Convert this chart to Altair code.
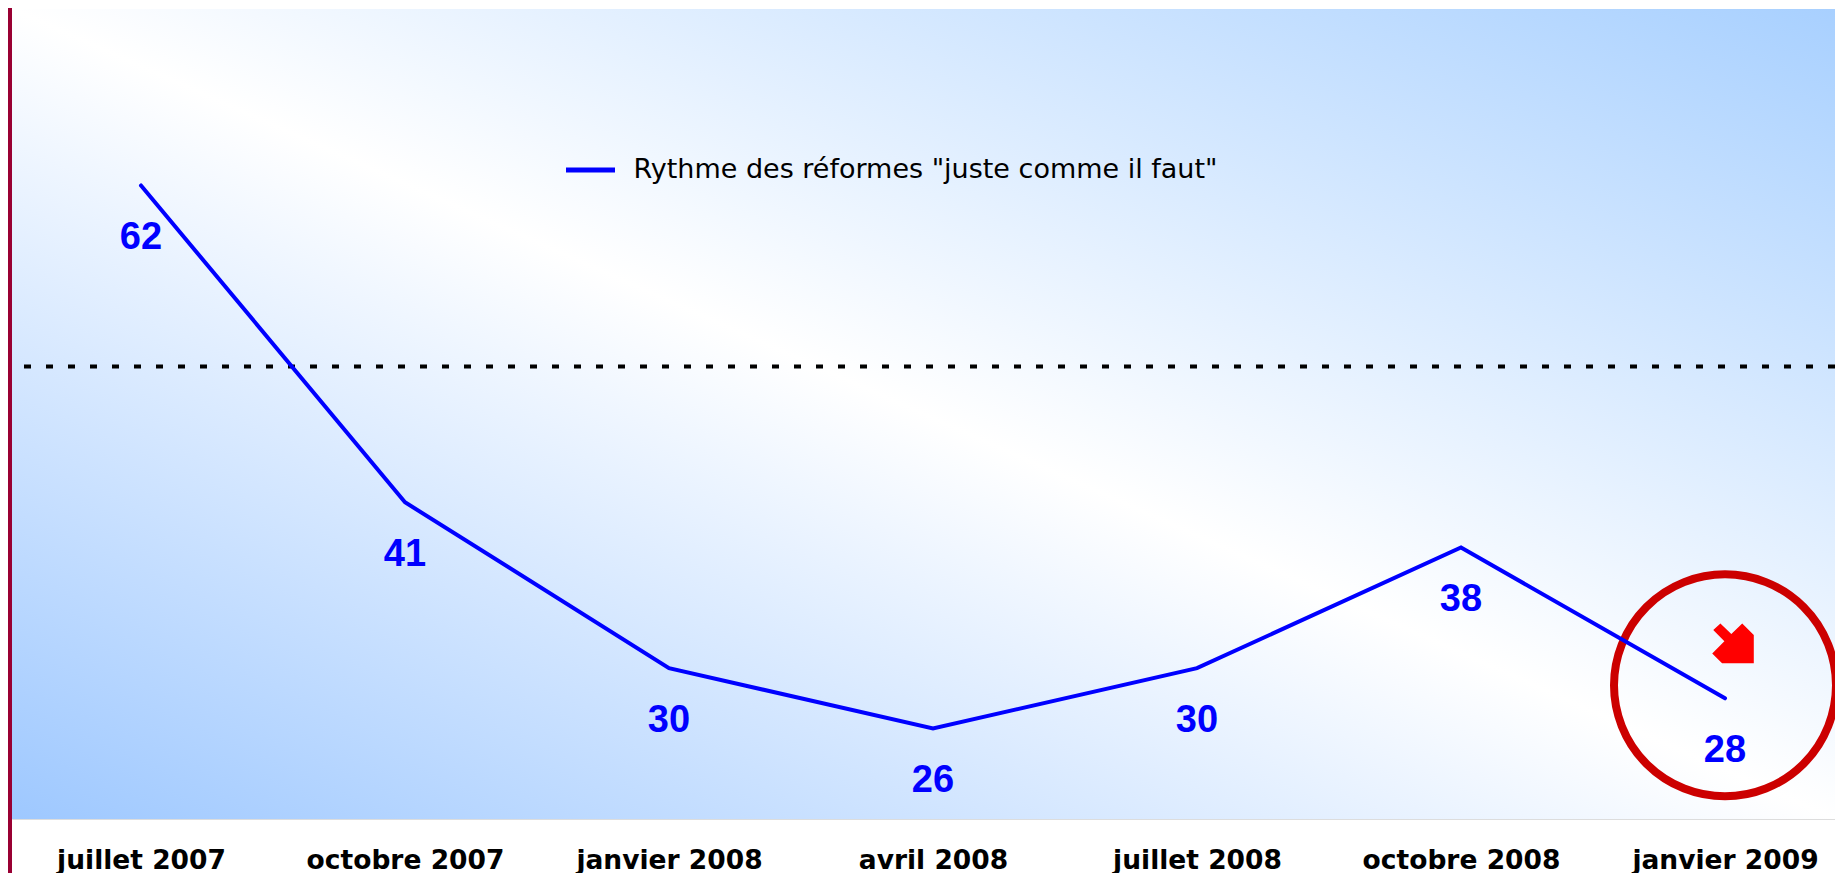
import altair as alt
import pandas as pd

# ---- data ----
periods = ["juillet 2007", "octobre 2007", "janvier 2008", "avril 2008",
           "juillet 2008", "octobre 2008", "janvier 2009"]
values = [62, 41, 30, 26, 30, 38, 28]
series_name = 'Rythme des réformes "juste comme il faut"'
reference_level = [50]

df = pd.DataFrame({"periode": periods, "valeur": values, "serie": series_name})
last = df.tail(1)
ref_df = pd.DataFrame({"ref": reference_level})

W, H = 1823, 810
TOTAL_H = 865

x_enc = alt.X("periode:N", sort=periods,
              scale=alt.Scale(type="point", range=[129, 1713], padding=0),
              axis=alt.Axis(title=None, domain=False, ticks=False, tickSize=0, grid=False,
                            labelAngle=0, labelFont="DejaVu Sans", labelFontSize=26.5,
                            labelFontWeight="bold", labelColor="#000000",
                            labelPadding=28, labelLimit=0))
y_scale = alt.Scale(domain=[20, 73.7], nice=False, zero=False)

one = alt.Data(values=[{}])

bg = alt.Chart(one).mark_rect(
    fill=alt.LinearGradient(gradient="linear", x1=0, y1=1, x2=1, y2=0,
                            stops=[alt.GradientStop(color="#9ec8ff", offset=0),
                                   alt.GradientStop(color="#ffffff", offset=0.5),
                                   alt.GradientStop(color="#a8d0ff", offset=1)])
).encode(x=alt.value(0), x2=alt.value(W), y=alt.value(0), y2=alt.value(H))

bar = alt.Chart(one).mark_rect(fill="#990033").encode(
    x=alt.value(-4), x2=alt.value(0), y=alt.value(-1), y2=alt.value(TOTAL_H))

ref = alt.Chart(ref_df).mark_rule(color="#000000", strokeWidth=4, strokeDash=[7, 15]).encode(
    y=alt.Y("ref:Q", scale=y_scale, axis=None))

circle = alt.Chart(last).mark_point(shape="circle", filled=False, size=49284, strokeWidth=8,
                                    color="#cc0000", opacity=1, yOffset=-13).encode(
    x=x_enc, y=alt.Y("valeur:Q", scale=y_scale, axis=None))

arrow_path = ("M-0.6,-0.95 L-0.08,-0.44 L0.44,-0.95 L0.99,-0.4 L0.99,0.95 "
              "L-0.52,0.95 L-0.99,0.48 L-0.41,-0.1 L-0.94,-0.64 Z")
arrow = alt.Chart(last).mark_point(shape=arrow_path, filled=True, size=1764, color="#ff0000",
                                   opacity=1, strokeWidth=0, xOffset=8, yOffset=-55).encode(
    x=x_enc, y=alt.Y("valeur:Q", scale=y_scale, axis=None))

line = alt.Chart(df).mark_line(strokeWidth=4, strokeCap="round", strokeJoin="miter").encode(
    x=x_enc,
    y=alt.Y("valeur:Q", scale=y_scale, axis=None),
    color=alt.Color("serie:N", scale=alt.Scale(range=["#0000ff"]),
                    legend=alt.Legend(title=None, orient="none", legendX=551.5, legendY=134,
                                      symbolType="stroke", symbolSize=2401,
                                      symbolStrokeWidth=5, labelFont="DejaVu Sans",
                                      labelFontSize=27, labelColor="#000000",
                                      labelOffset=16, labelLimit=0, padding=0)))

labels = alt.Chart(df).mark_text(font="Liberation Sans", fontSize=38, fontWeight="bold",
                                 color="#0000ff", align="center", baseline="alphabetic",
                                 dy=64).encode(
    x=x_enc, y=alt.Y("valeur:Q", scale=y_scale, axis=None), text="valeur:Q")

chart = alt.layer(bg, bar, ref, circle, arrow, line, labels).properties(
    width=W, height=H,
    autosize=alt.AutoSizeParams(type="none"),
    padding={"left": 4, "top": 1, "right": 0, "bottom": TOTAL_H - 1 - H},
).configure_view(stroke=None).configure(background="#ffffff")

chart.save("out.html", embed_options={"renderer": "svg", "actions": False})
